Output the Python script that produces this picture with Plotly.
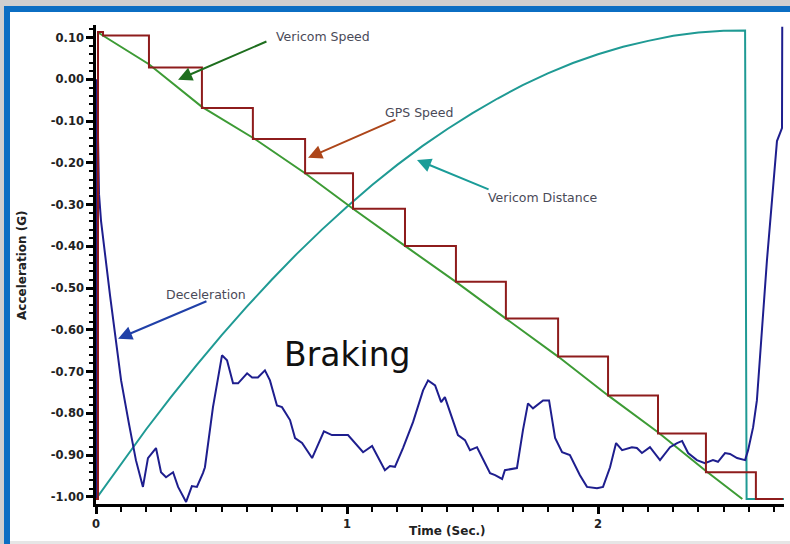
import plotly.graph_objects as go

# ---------------- data (seconds, G) ----------------
speed_t = [0.008, 0.211, 0.422, 0.633, 0.833, 1.024, 1.231, 1.434, 1.633, 1.841, 2.040, 2.239, 2.430, 2.575]
speed_v = [0.112, 0.036, -0.066, -0.143, -0.225, -0.310, -0.399, -0.485, -0.573, -0.664, -0.757, -0.845, -0.938, -1.005]

gps_t = [0.000, 0.008, 0.028, 0.211, 0.422, 0.625, 0.833, 1.024, 1.231, 1.434, 1.633, 1.841, 2.040, 2.239, 2.430, 2.629, 2.737]
gps_v = [-1.005, 0.113, 0.105, 0.028, -0.069, -0.143, -0.225, -0.310, -0.399, -0.485, -0.573, -0.664, -0.757, -0.848, -0.941, -1.005, -1.005]

dist_t = [0.0, 0.1, 0.2, 0.3, 0.4, 0.5, 0.6, 0.7, 0.8, 0.9, 1.0, 1.1, 1.2, 1.3, 1.4, 1.5, 1.6, 1.7,
          1.8, 1.9, 2.0, 2.1, 2.2, 2.3, 2.4, 2.5, 2.586, 2.592, 2.741]
dist_v = [-1.005, -0.920, -0.838, -0.760, -0.685, -0.613, -0.545, -0.480, -0.418, -0.360, -0.305,
          -0.253, -0.205, -0.160, -0.119, -0.081, -0.046, -0.014, 0.014, 0.039, 0.060, 0.078,
          0.092, 0.104, 0.112, 0.116, 0.117, -1.005, -1.005]

decel_t = [0.000, 0.004, 0.012, 0.020, 0.056, 0.100, 0.131, 0.159, 0.187, 0.207, 0.239, 0.259, 0.279,
           0.307, 0.327, 0.359, 0.382, 0.402, 0.426, 0.434, 0.466, 0.502, 0.522, 0.546, 0.566, 0.602,
           0.622, 0.645, 0.673, 0.693, 0.721, 0.741, 0.773, 0.793, 0.821, 0.861, 0.908, 0.940, 1.004,
           1.064, 1.100, 1.151, 1.171, 1.191, 1.223, 1.263, 1.303, 1.323, 1.351, 1.375, 1.390, 1.442,
           1.470, 1.490, 1.518, 1.570, 1.590, 1.618, 1.629, 1.677, 1.701, 1.721, 1.741, 1.781, 1.805,
           1.829, 1.857, 1.888, 1.928, 1.956, 1.996, 2.020, 2.048, 2.072, 2.096, 2.135, 2.155, 2.175,
           2.207, 2.247, 2.287, 2.315, 2.335, 2.359, 2.394, 2.426, 2.458, 2.478, 2.506, 2.526, 2.554,
           2.586, 2.598, 2.618, 2.633, 2.653, 2.673, 2.693, 2.713, 2.733, 2.734]
decel_v = [-1.005, 0.000, -0.275, -0.339, -0.518, -0.721, -0.824, -0.912, -0.976, -0.907, -0.883, -0.941,
           -0.953, -0.941, -0.976, -1.012, -0.974, -0.976, -0.943, -0.929, -0.785, -0.661, -0.673, -0.728,
           -0.728, -0.704, -0.714, -0.714, -0.697, -0.721, -0.781, -0.785, -0.816, -0.859, -0.871, -0.907,
           -0.843, -0.852, -0.852, -0.893, -0.878, -0.936, -0.926, -0.928, -0.883, -0.821, -0.745, -0.721,
           -0.733, -0.773, -0.761, -0.852, -0.864, -0.888, -0.881, -0.943, -0.948, -0.957, -0.936, -0.931,
           -0.840, -0.776, -0.788, -0.769, -0.769, -0.859, -0.893, -0.900, -0.948, -0.976, -0.979, -0.976,
           -0.929, -0.871, -0.888, -0.881, -0.883, -0.895, -0.881, -0.912, -0.881, -0.871, -0.866, -0.895,
           -0.912, -0.919, -0.912, -0.916, -0.895, -0.897, -0.907, -0.912, -0.888, -0.833, -0.769, -0.601,
           -0.434, -0.291, -0.148, -0.117, 0.126]

y_tickvals = [0.10, 0.00, -0.10, -0.20, -0.30, -0.40, -0.50, -0.60, -0.70, -0.80, -0.90, -1.00]
y_ticktext = ["0.10", "0.00", "-0.10", "-0.20", "-0.30", "-0.40", "-0.50", "-0.60", "-0.70", "-0.80", "-0.90", "-1.00"]
x_tickvals = [0, 1, 2]
x_ticktext = ["0", "1", "2"]

# label: (text, text_t, text_v, tail_t, tail_v, head_t, head_v, colour)
labels = [
    ("Vericom Speed", 0.905, 0.103, 0.685, 0.092, 0.327, -0.001, "#1e6e1e"),
    ("GPS Speed", 1.287, -0.080, 1.199, -0.095, 0.845, -0.188, "#ad461a"),
    ("Vericom Distance", 1.780, -0.283, 1.570, -0.265, 1.279, -0.193, "#1a9c98"),
    ("Deceleration", 0.438, -0.515, 0.446, -0.530, 0.088, -0.621, "#2040a8"),
]

# ---------------- figure ----------------
W, H = 790, 544
L, R, T, B = 96, 6, 25, 40
PW, PH = W - L - R, H - T - B


def px(x):
    return (x - L) / PW


def py(y):
    return (H - B - y) / PH


fig = go.Figure()
fig.add_trace(go.Scatter(x=dist_t, y=dist_v, mode="lines", line=dict(color="#1f9a94", width=2), name="Vericom Distance"))
fig.add_trace(go.Scatter(x=speed_t, y=speed_v, mode="lines", line=dict(color="#3d9b35", width=2), name="Vericom Speed"))
fig.add_trace(go.Scatter(x=decel_t, y=decel_v, mode="lines", line=dict(color="#1e1e8e", width=2), name="Deceleration"))
fig.add_trace(go.Scatter(x=gps_t, y=gps_v, mode="lines", line=dict(color="#8e1c1c", width=2, shape="hv"), name="GPS Speed"))

annotations = []
for text, tt, tv, at, av, ht, hv, col in labels:
    annotations.append(dict(x=ht, y=hv, ax=at, ay=av, xref="x", yref="y", axref="x", ayref="y",
                            text="", showarrow=True, arrowhead=2, arrowsize=1.4, arrowwidth=2,
                            arrowcolor=col))
    annotations.append(dict(x=tt, y=tv, xref="x", yref="y", text=text, showarrow=False,
                            xanchor="center", yanchor="middle",
                            font=dict(family="DejaVu Sans", size=12.5, color="#4a4a58")))

annotations.append(dict(x=px(347), y=py(354), xref="paper", yref="paper", text="Braking", showarrow=False,
                        xanchor="center", yanchor="middle",
                        font=dict(family="DejaVu Sans", size=33, color="#111111")))
annotations.append(dict(x=px(22), y=py(265), xref="paper", yref="paper", text="<b>Acceleration (G)</b>",
                        showarrow=False, textangle=-90, xanchor="center", yanchor="middle",
                        font=dict(family="DejaVu Sans", size=12, color="#222222")))
annotations.append(dict(x=px(447), y=py(531), xref="paper", yref="paper", text="<b>Time (Sec.)</b>",
                        showarrow=False, xanchor="center", yanchor="middle",
                        font=dict(family="DejaVu Sans", size=12, color="#222222")))

shapes = [
    dict(type="rect", xref="paper", yref="paper", x0=px(0), x1=px(4), y0=py(544), y1=py(0),
         fillcolor="#cfcfcf", line=dict(width=0), layer="above"),
    dict(type="rect", xref="paper", yref="paper", x0=px(0), x1=px(790), y0=py(6), y1=py(0),
         fillcolor="#cfcfcf", line=dict(width=0), layer="above"),
    dict(type="rect", xref="paper", yref="paper", x0=px(4), x1=px(10), y0=py(544), y1=py(6),
         fillcolor="#0b6ec3", line=dict(width=0), layer="above"),
    dict(type="rect", xref="paper", yref="paper", x0=px(4), x1=px(790), y0=py(12), y1=py(6),
         fillcolor="#0b6ec3", line=dict(width=0), layer="above"),
    dict(type="rect", xref="paper", yref="paper", x0=px(10), x1=px(790), y0=py(544), y1=py(541),
         fillcolor="#e6e6e6", line=dict(width=0), layer="above"),
]

tickfont = dict(family="DejaVu Sans", size=11.5, color="#222222")
fig.update_layout(
    width=W, height=H, margin=dict(l=L, r=R, t=T, b=B),
    paper_bgcolor="white", plot_bgcolor="white", showlegend=False,
    annotations=annotations, shapes=shapes,
    xaxis=dict(range=[0, 2.741], showgrid=False, zeroline=False, showline=True, linecolor="black",
               linewidth=2.5, ticks="outside", ticklen=7, tickwidth=2.5, tickcolor="black",
               tickvals=x_tickvals, ticktext=["<b>%s</b>" % s for s in x_ticktext], tickfont=tickfont,
               minor=dict(dtick=0.1, tick0=0, ticks="outside", ticklen=5, tickwidth=1.5, tickcolor="black")),
    yaxis=dict(range=[-1.017, 0.130], showgrid=False, zeroline=False, showline=True, linecolor="black",
               linewidth=2.5, ticks="outside", ticklen=7, tickwidth=2.5, tickcolor="black",
               tickvals=y_tickvals, ticktext=["<b>%s</b>" % s for s in y_ticktext], tickfont=tickfont,
               minor=dict(dtick=0.02, tick0=0, ticks="outside", ticklen=4, tickwidth=1.5, tickcolor="black")),
)

fig.write_html("out.html", config={"displayModeBar": False},
               post_script="document.body.style.margin='0';document.body.style.overflow='hidden';")
